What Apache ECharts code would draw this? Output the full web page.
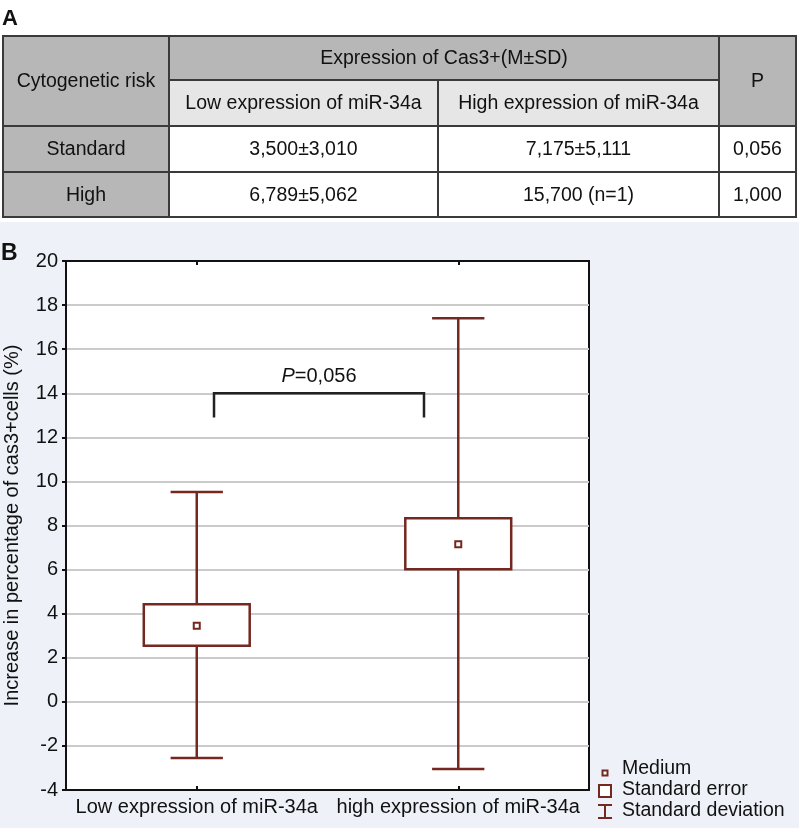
<!DOCTYPE html>
<html>
<head>
<meta charset="utf-8">
<script src="https://cdn.jsdelivr.net/npm/echarts@6/dist/echarts.min.js"></script>
<style>
html,body{margin:0;padding:0;background:#ffffff;}
#chart{width:799px;height:828px;}
</style>
</head>
<body>
<div id="chart"></div>
<script>
// ---- Panel B data ----
const categories = ['Low expression of miR-34a', 'high expression of miR-34a'];
const means = [3.45, 7.15];
const seLower = [2.55, 6.02];
const seUpper = [4.43, 8.33];
const sdLower = [-2.55, -3.05];
const sdUpper = [9.52, 17.4];
const yMin = -4, yMax = 20, yStep = 2;
const bracketX = [0.066, 0.869];   // fraction between the two categories
const bracketY = [12.9, 14.0];
const bracketLabel = '0,056';
const legendLabels = ['Medium', 'Standard error', 'Standard deviation'];
const yAxisTitle = 'Increase in percentage of cas3+cells (%)';

// ---- Panel A table ----
const tableTitle = 'Expression of Cas3+(M±SD)';
const tableHead = ['Cytogenetic risk', 'Low expression of miR-34a', 'High expression of miR-34a', 'P'];
const tableRowNames = ['Standard', 'High'];
const tableLow = ['3,500±3,010', '6,789±5,062'];
const tableHigh = ['7,175±5,111', '15,700 (n=1)'];
const tableP = ['0,056', '1,000'];

const BROWN = '#742820';
const FONT = 'Arial, "Liberation Sans", Helvetica, sans-serif';

const chart = echarts.init(document.getElementById('chart'), null, {renderer: 'canvas'});

// table geometry
const colX = [3, 169, 438, 719, 796];
const rowY = [36, 80, 126, 172, 217];
const GRAY = '#b7b7b7', LIGHT = '#e6e6e6', BORDER = '#3a3a3a';
const tableEls = [];
function cell(x0, y0, x1, y1, fill, text) {
  tableEls.push({
    type: 'rect', shape: {x: x0, y: y0, width: x1 - x0, height: y1 - y0},
    style: {fill: fill, stroke: BORDER, lineWidth: 2}, z: 1
  });
  tableEls.push({
    type: 'text', x: (x0 + x1) / 2, y: (y0 + y1) / 2 + 1, z: 2,
    style: {text: text, fill: '#111', font: '19.5px ' + FONT, align: 'center', verticalAlign: 'middle'}
  });
}
cell(colX[0], rowY[0], colX[1], rowY[2], GRAY, tableHead[0]);
cell(colX[1], rowY[0], colX[3], rowY[1], GRAY, tableTitle);
cell(colX[1], rowY[1], colX[2], rowY[2], LIGHT, tableHead[1]);
cell(colX[2], rowY[1], colX[3], rowY[2], LIGHT, tableHead[2]);
cell(colX[3], rowY[0], colX[4], rowY[2], GRAY, tableHead[3]);
for (let r = 0; r < tableRowNames.length; r++) {
  cell(colX[0], rowY[2 + r], colX[1], rowY[3 + r], GRAY, tableRowNames[r]);
  cell(colX[1], rowY[2 + r], colX[2], rowY[3 + r], '#ffffff', tableLow[r]);
  cell(colX[2], rowY[2 + r], colX[3], rowY[3 + r], '#ffffff', tableHigh[r]);
  cell(colX[3], rowY[2 + r], colX[4], rowY[3 + r], '#ffffff', tableP[r]);
}

// legend graphic
const LX = 605;
const legendEls = [
  {type: 'rect', shape: {x: LX - 2.5, y: 770.5, width: 5, height: 5}, style: {fill: '#fff', stroke: BROWN, lineWidth: 2}},
  {type: 'rect', shape: {x: LX - 6, y: 785, width: 12, height: 12}, style: {fill: '#fff', stroke: BROWN, lineWidth: 2}},
  {type: 'line', shape: {x1: LX, y1: 805, x2: LX, y2: 818}, style: {stroke: BROWN, lineWidth: 2}},
  {type: 'line', shape: {x1: LX - 7, y1: 805, x2: LX + 7, y2: 805}, style: {stroke: BROWN, lineWidth: 2}},
  {type: 'line', shape: {x1: LX - 7, y1: 818, x2: LX + 7, y2: 818}, style: {stroke: BROWN, lineWidth: 2}}
];
[769, 790, 811].forEach((y, i) => {
  legendEls.push({type: 'text', x: 622, y: y, style: {text: legendLabels[i], fill: '#111', font: '19.5px ' + FONT, verticalAlign: 'middle'}});
});

const boxData = categories.map((c, i) => [i, means[i], seLower[i], seUpper[i], sdLower[i], sdUpper[i]]);

const option = {
  animation: false,
  backgroundColor: '#ffffff',
  textStyle: {fontFamily: FONT},
  graphic: [
    {type: 'rect', shape: {x: 0, y: 222, width: 799, height: 606}, style: {fill: '#eef1f8'}, z: -10, silent: true},
    {type: 'text', x: 2, y: 8, style: {text: 'A', font: 'bold 22px ' + FONT, fill: '#111'}},
    {type: 'text', x: 1, y: 242, style: {text: 'B', font: 'bold 23px ' + FONT, fill: '#111'}},
    ...tableEls,
    ...legendEls
  ],
  grid: {left: 66, top: 261, right: 210, bottom: 38, containLabel: false, outerBoundsMode: 'none',
    show: true, backgroundColor: '#ffffff', borderColor: '#111', borderWidth: 2},
  xAxis: [{
    type: 'category', data: categories, boundaryGap: true,
    axisLine: {show: true, onZero: false, lineStyle: {color: '#111', width: 2}},
    axisTick: {show: true, inside: true, alignWithLabel: true, length: 4, lineStyle: {color: '#111', width: 2}, interval: 0},
    axisLabel: {color: '#111', fontSize: 20, margin: 7, fontFamily: FONT, interval: 0},
    splitLine: {show: false}
  }, {
    type: 'category', data: categories, position: 'top', boundaryGap: true,
    axisLine: {show: true, onZero: false, lineStyle: {color: '#111', width: 2}},
    axisTick: {show: true, inside: true, alignWithLabel: true, length: 4, lineStyle: {color: '#111', width: 2}, interval: 0},
    axisLabel: {show: false}
  }],
  yAxis: {
    type: 'value', min: yMin, max: yMax, interval: yStep,
    name: yAxisTitle, nameLocation: 'middle', nameRotate: 90, nameGap: 44,
    nameTextStyle: {color: '#111', fontSize: 20, fontFamily: FONT},
    axisLine: {show: true, onZero: false, lineStyle: {color: '#111', width: 2}},
    axisTick: {show: true, length: 4, lineStyle: {color: '#111', width: 2}},
    axisLabel: {color: '#111', fontSize: 20, margin: 8, fontFamily: FONT},
    splitLine: {show: true, lineStyle: {color: '#cbcbcb', width: 2}}
  },
  series: [{
    type: 'custom',
    data: boxData,
    z: 5,
    renderItem: function (params, api) {
      const i = api.value(0);
      const x = api.coord([i, 0])[0];
      const band = api.size([1, 0])[0];
      const bw = band * 0.405, cw = band * 0.2;
      const yMean = api.coord([i, api.value(1)])[1];
      const ySeL = api.coord([i, api.value(2)])[1];
      const ySeH = api.coord([i, api.value(3)])[1];
      const ySdL = api.coord([i, api.value(4)])[1];
      const ySdH = api.coord([i, api.value(5)])[1];
      const ls = {stroke: BROWN, lineWidth: 2.5};
      return {
        type: 'group',
        children: [
          {type: 'line', shape: {x1: x, y1: ySdH, x2: x, y2: ySeH}, style: ls},
          {type: 'line', shape: {x1: x, y1: ySeL, x2: x, y2: ySdL}, style: ls},
          {type: 'line', shape: {x1: x - cw / 2, y1: ySdH, x2: x + cw / 2, y2: ySdH}, style: ls},
          {type: 'line', shape: {x1: x - cw / 2, y1: ySdL, x2: x + cw / 2, y2: ySdL}, style: ls},
          {type: 'rect', shape: {x: x - bw / 2, y: ySeH, width: bw, height: ySeL - ySeH}, style: {fill: '#fff', stroke: BROWN, lineWidth: 2.5}},
          {type: 'rect', shape: {x: x - 3, y: yMean - 3, width: 6, height: 6}, style: {fill: '#fff', stroke: BROWN, lineWidth: 2}}
        ]
      };
    }
  }, {
    type: 'custom',
    data: [[bracketX[0], bracketX[1], bracketY[0], bracketY[1]]],
    z: 6,
    renderItem: function (params, api) {
      const x0c = api.coord([0, 0])[0], x1c = api.coord([1, 0])[0];
      const xa = x0c + (x1c - x0c) * api.value(0);
      const xb = x0c + (x1c - x0c) * api.value(1);
      const yb = api.coord([0, api.value(2)])[1];
      const yt = api.coord([0, api.value(3)])[1];
      return {
        type: 'group',
        children: [
          {type: 'polyline', shape: {points: [[xa, yb], [xa, yt], [xb, yt], [xb, yb]]}, style: {stroke: '#222', lineWidth: 2.5, fill: null}},
          {type: 'text', x: (xa + xb) / 2, y: yt - 17, style: {
            text: '{i|P}{n|=' + bracketLabel + '}',
            align: 'center', verticalAlign: 'middle',
            rich: {i: {fontStyle: 'italic', fontSize: 20, fontFamily: FONT, fill: '#111'}, n: {fontSize: 20, fontFamily: FONT, fill: '#111'}}
          }}
        ]
      };
    }
  }]
};
chart.setOption(option);
</script>
</body>
</html>
